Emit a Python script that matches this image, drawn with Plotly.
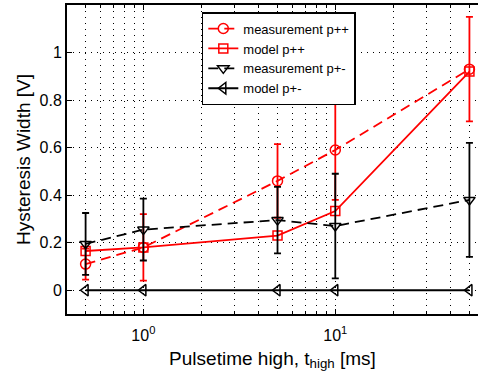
import plotly.graph_objects as go

# Pulse duration (ms)
t_high = [0.5, 1, 5, 10, 50]

# Hysteresis width [V] for the p++ sequence
meas_pp = [0.11, 0.18, 0.46, 0.59, 0.93]
meas_pp_err = [0.065, 0.14, 0.155, 0.21, 0.22]
model_pp = [0.165, 0.18, 0.23, 0.333, 0.92]

# Hysteresis width [V] for the p+- sequence
meas_pm = [0.195, 0.255, 0.295, 0.27, 0.38]
meas_pm_err = [0.13, 0.13, 0.14, 0.22, 0.24]
model_pm = [0, 0, 0, 0, 0]

x_ticks = [1, 10]
x_tick_text = ["10<sup>0</sup>", "10<sup>1</sup>"]
x_minor = [0.4, 0.5, 0.6, 0.7, 0.8, 0.9, 2, 3, 4, 5, 6, 7, 8, 9, 20, 30, 40, 50]
y_ticks = [0, 0.2, 0.4, 0.6, 0.8, 1.0]
y_tick_text = ["0", "0.2", "0.4", "0.6", "0.8", "1"]

RED = "#ff0000"
BLACK = "#000000"
DASH = "10px,6px"
LW = 1.8

fig = go.Figure()

fig.add_trace(go.Scatter(
    x=t_high, y=meas_pp, name="measurement p++", mode="lines+markers",
    line=dict(color=RED, width=LW, dash=DASH),
    marker=dict(symbol="circle-open", size=10, color=RED, line=dict(width=1.5)),
    error_y=dict(type="data", array=meas_pp_err, color=RED, thickness=1.8, width=3.5),
))
fig.add_trace(go.Scatter(
    x=t_high, y=model_pp, name="model p++", mode="lines+markers",
    line=dict(color=RED, width=LW),
    marker=dict(symbol="square-open", size=9, color=RED, line=dict(width=1.5)),
))
fig.add_trace(go.Scatter(
    x=t_high, y=meas_pm, name="measurement p+-", mode="lines+markers",
    line=dict(color=BLACK, width=LW, dash=DASH),
    marker=dict(symbol="triangle-down-open", size=10, color=BLACK, line=dict(width=1.5)),
    error_y=dict(type="data", array=meas_pm_err, color=BLACK, thickness=1.8, width=3.5),
))
fig.add_trace(go.Scatter(
    x=t_high, y=model_pm, name="model p+-", mode="lines+markers",
    line=dict(color=BLACK, width=LW),
    marker=dict(symbol="triangle-left-open", size=10, color=BLACK, line=dict(width=1.5)),
))

grid_dash = "1px,5px"

fig.update_layout(
    width=478, height=379,
    margin=dict(l=67, r=0, t=5, b=65),
    paper_bgcolor="white", plot_bgcolor="white",
    font=dict(family="Liberation Sans, Arial, sans-serif", size=16, color="black"),
    showlegend=True,
    legend=dict(
        x=0.328, y=0.977, xanchor="left", yanchor="top",
        bgcolor="white", bordercolor="black", borderwidth=1.5,
        font=dict(size=13), tracegroupgap=0,
    ),
    xaxis=dict(
        type="log", range=[-0.39794, 1.7436],
        tickmode="array", tickvals=x_ticks, ticktext=x_tick_text,
        showgrid=True, gridcolor="black", griddash=grid_dash, gridwidth=1,
        minor=dict(tickmode="array", tickvals=x_minor, showgrid=True,
                   gridcolor="black", griddash=grid_dash, gridwidth=1,
                   ticks="inside", ticklen=3, tickcolor="black"),
        ticks="inside", ticklen=5, tickcolor="black", tickwidth=1,
        ticklabelstandoff=6,
        showline=True, linecolor="black", linewidth=2, mirror="ticks",
        zeroline=False,
        title=dict(text="Pulsetime high, t<sub>high</sub> [ms]", standoff=8),
        tickfont=dict(size=16),
    ),
    yaxis=dict(
        range=[-0.1, 1.2],
        tickmode="array", tickvals=y_ticks, ticktext=y_tick_text,
        showgrid=True, gridcolor="black", griddash=grid_dash, gridwidth=1,
        ticks="inside", ticklen=5, tickcolor="black", tickwidth=1,
        showline=True, linecolor="black", linewidth=2, mirror=False,
        zeroline=False,
        title=dict(text="Hysteresis Width [V]", standoff=4),
        tickfont=dict(size=16),
    ),
)

fig.write_html("out.html")
